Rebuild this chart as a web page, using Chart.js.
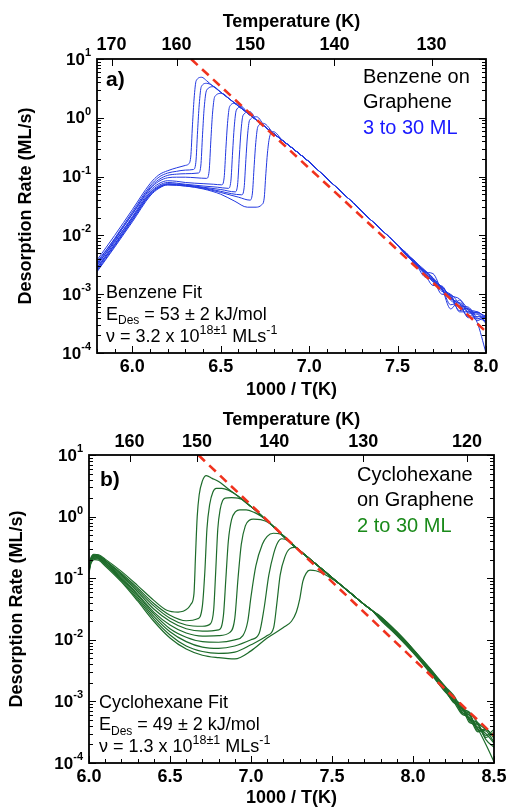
<!DOCTYPE html>
<html><head><meta charset="utf-8">
<script src="https://cdn.jsdelivr.net/npm/chart.js@4.4.1/dist/chart.umd.min.js"></script>
<style>
html,body{margin:0;padding:0;background:#fff;}
#wa{position:absolute;left:0;top:0;width:506px;height:400px;}
#wb{position:absolute;left:0;top:400px;width:506px;height:407px;}
canvas{display:block;}
</style></head><body>
<div id="wa"><canvas id="ca" width="506" height="400"></canvas></div>
<div id="wb"><canvas id="cb" width="506" height="407"></canvas></div>
<script>
// ---------------- DATA ----------------
const yDecades = [-4, -3, -2, -1, 0, 1];

// Panel a: Benzene on Graphene (x = 1000/T, y = desorption rate ML/s)
const benzeneXTicks = [6.0, 6.5, 7.0, 7.5, 8.0];
const benzeneTempTicks = [170, 160, 150, 140, 130];
const benzeneFit = [[6.332, 10], [8.0, 0.000230]];
const benzeneFitText = ['Benzene Fit', '53', '3.2'];
const benzeneHeads = [
  [[5.80,0.00380],[5.90,0.0100],[6.00,0.0275],[6.10,0.0759],[6.15,0.107],[6.20,0.126],[6.25,0.141],[6.30,0.155],[6.316,0.162],[6.330,0.214],[6.340,0.759],[6.349,2.09],[6.361,4.27],[6.392,4.89],[6.42,4.27]],
  [[5.80,0.00331],[5.90,0.00891],[6.00,0.0251],[6.10,0.0692],[6.15,0.0977],[6.20,0.115],[6.25,0.123],[6.30,0.129],[6.345,0.132],[6.359,0.174],[6.369,0.603],[6.378,1.66],[6.390,3.39],[6.420,3.86]],
  [[5.80,0.00302],[5.90,0.00832],[6.00,0.0234],[6.10,0.0646],[6.15,0.0891],[6.20,0.105],[6.25,0.110],[6.30,0.112],[6.373,0.115],[6.387,0.151],[6.397,0.525],[6.406,1.45],[6.420,2.95],[6.458,3.38]],
  [[5.80,0.00355],[5.90,0.00871],[6.00,0.0229],[6.10,0.0617],[6.15,0.0832],[6.20,0.0955],[6.25,0.0977],[6.30,0.0977],[6.36,0.0955],[6.420,0.0933],[6.434,0.123],[6.444,0.417],[6.453,1.15],[6.466,2.29],[6.505,2.61]],
  [[5.80,0.00282],[5.90,0.00759],[6.00,0.0209],[6.10,0.0575],[6.15,0.0759],[6.20,0.0851],[6.25,0.0832],[6.30,0.0794],[6.40,0.0759],[6.46,0.0741],[6.505,0.0724],[6.519,0.0955],[6.529,0.302],[6.538,0.794],[6.550,1.55],[6.581,1.77]],
  [[5.80,0.00263],[5.90,0.00708],[6.00,0.0195],[6.10,0.0537],[6.15,0.0708],[6.20,0.0794],[6.30,0.0741],[6.40,0.0692],[6.48,0.0661],[6.543,0.0631],[6.557,0.0832],[6.567,0.263],[6.576,0.692],[6.588,1.35],[6.618,1.55]],
  [[5.80,0.00316],[5.90,0.00794],[6.00,0.0200],[6.10,0.0525],[6.15,0.0676],[6.20,0.0759],[6.30,0.0724],[6.40,0.0661],[6.50,0.0603],[6.581,0.0550],[6.595,0.0724],[6.605,0.224],[6.614,0.575],[6.626,1.10],[6.665,1.27]],
  [[5.80,0.00251],[5.90,0.00661],[6.00,0.0182],[6.10,0.0501],[6.15,0.0661],[6.20,0.0741],[6.30,0.0708],[6.40,0.0646],[6.50,0.0562],[6.56,0.0513],[6.618,0.0490],[6.632,0.0646],[6.642,0.195],[6.651,0.490],[6.663,0.912],[6.703,1.04]],
  [[5.80,0.00282],[5.90,0.00692],[6.00,0.0182],[6.10,0.0490],[6.15,0.0646],[6.20,0.0724],[6.30,0.0692],[6.40,0.0631],[6.50,0.0537],[6.60,0.0447],[6.665,0.0398],[6.679,0.0525],[6.689,0.155],[6.698,0.380],[6.710,0.708],[6.741,0.805]],
  [[5.80,0.00240],[5.90,0.00631],[6.00,0.0170],[6.10,0.0468],[6.15,0.0631],[6.20,0.0724],[6.30,0.0692],[6.40,0.0617],[6.50,0.0501],[6.58,0.0380],[6.65,0.0302],[6.70,0.0302],[6.731,0.0331],[6.745,0.0417],[6.755,0.112],[6.764,0.251],[6.775,0.457],[6.797,0.581]]
];
const benzeneEdge = [[6.45,3.57],[6.50,2.72],[6.55,2.08],[6.60,1.58],[6.65,1.21],[6.70,0.923],[6.75,0.705],[6.80,0.537],[6.85,0.410],[6.90,0.313],[6.95,0.237],[7.00,0.178],[7.05,0.129],[7.10,0.0933],[7.15,0.0676],[7.20,0.0490],[7.25,0.0355],[7.30,0.0251],[7.35,0.0182],[7.40,0.0132],[7.45,0.00955],[7.50,0.00676]];
const benzeneTailX = [7.55,7.60,7.65,7.70,7.75,7.80,7.85,7.90,7.95,8.00];
const benzeneTails = [
  [0.00490,0.00355,0.00263,0.00191,0.00132,0.000955,0.000832,0.000562,0.000501,0.000417],
  [0.00468,0.00331,0.00234,0.00141,0.00138,0.000794,0.000631,0.000603,0.000398,0.000355],
  [0.00501,0.00347,0.00251,0.00182,0.00112,0.00100,0.000501,0.000501,0.000479,0.000331],
  [0.00457,0.00324,0.00224,0.00166,0.00120,0.000832,0.000708,0.000398,0.000417,0.000398],
  [0.00479,0.00363,0.00240,0.00224,0.00117,0.000912,0.000603,0.000550,0.000355,0.000437],
  [0.00490,0.00316,0.00257,0.00170,0.00129,0.000661,0.000724,0.000479,0.000457,0.000316],
  [0.00468,0.00339,0.00200,0.00178,0.00123,0.000933,0.000525,0.000575,0.000380,0.000447],
  [0.00479,0.00347,0.00245,0.00162,0.00135,0.000871,0.000661,0.000417,0.000501,0.000363],
  [0.00501,0.00331,0.00251,0.00186,0.00100,0.000977,0.000692,0.000537,0.000331,0.000100],
  [0.00457,0.00355,0.00234,0.00174,0.00126,0.000562,0.000794,0.000501,0.000490,0.000398]
];

// Panel b: Cyclohexane on Graphene
const cycloXTicks = [6.0, 6.5, 7.0, 7.5, 8.0, 8.5];
const cycloTempTicks = [160, 150, 140, 130, 120];
const cycloFit = [[6.675, 10], [8.5, 0.00028]];
const cycloFitText = ['Cyclohexane Fit', '49', '1.3'];
const cycloHeads = [
  [[6.00,0.158],[6.01,0.209],[6.03,0.245],[6.06,0.240],[6.10,0.204],[6.20,0.129],[6.30,0.0759],[6.40,0.0437],[6.48,0.0302],[6.55,0.0282],[6.61,0.0324],[6.63,0.038],[6.648,0.0562],[6.658,0.251],[6.668,1.00],[6.68,2.24],[6.70,3.80],[6.724,4.61],[6.76,4.17]],
  [[6.00,0.145],[6.01,0.200],[6.03,0.240],[6.06,0.234],[6.10,0.195],[6.20,0.120],[6.30,0.0692],[6.40,0.0389],[6.50,0.0251],[6.60,0.0204],[6.67,0.0219],[6.70,0.0355],[6.715,0.126],[6.728,0.631],[6.745,1.58],[6.765,2.51],[6.786,2.88],[6.82,2.88],[6.86,2.69]],
  [[6.00,0.138],[6.01,0.191],[6.035,0.229],[6.06,0.224],[6.10,0.191],[6.20,0.115],[6.30,0.0646],[6.40,0.0355],[6.50,0.0224],[6.60,0.0174],[6.70,0.0166],[6.75,0.0182],[6.77,0.0316],[6.782,0.126],[6.795,0.631],[6.81,1.32],[6.825,1.82],[6.84,2.00],[6.88,2.04],[6.92,2.00]],
  [[6.00,0.148],[6.01,0.195],[6.03,0.234],[6.06,0.229],[6.10,0.191],[6.20,0.110],[6.30,0.0603],[6.40,0.0316],[6.50,0.0200],[6.60,0.0151],[6.70,0.0138],[6.80,0.0145],[6.83,0.0251],[6.845,0.100],[6.86,0.398],[6.88,0.891],[6.905,1.20],[6.93,1.29],[6.97,1.29],[7.02,1.17],[7.06,1.02]],
  [[6.00,0.141],[6.01,0.186],[6.035,0.224],[6.06,0.219],[6.10,0.182],[6.20,0.105],[6.30,0.0550],[6.40,0.0282],[6.50,0.0174],[6.60,0.0129],[6.70,0.0115],[6.80,0.0117],[6.87,0.0132],[6.90,0.0224],[6.92,0.100],[6.94,0.355],[6.965,0.708],[6.99,0.871],[7.014,0.912],[7.06,0.891],[7.11,0.794]],
  [[6.00,0.132],[6.01,0.182],[6.035,0.219],[6.06,0.214],[6.10,0.178],[6.20,0.100],[6.30,0.0525],[6.40,0.0263],[6.50,0.0151],[6.60,0.0110],[6.70,0.00933],[6.80,0.00912],[6.90,0.0100],[6.95,0.0117],[6.98,0.0200],[7.00,0.0501],[7.03,0.158],[7.07,0.355],[7.10,0.479],[7.138,0.537],[7.18,0.525],[7.22,0.447]],
  [[6.00,0.135],[6.01,0.178],[6.035,0.214],[6.06,0.209],[6.10,0.170],[6.20,0.0955],[6.30,0.0490],[6.40,0.0240],[6.50,0.0135],[6.60,0.00933],[6.70,0.00759],[6.80,0.00724],[6.90,0.00794],[7.00,0.0100],[7.05,0.0126],[7.08,0.0316],[7.11,0.112],[7.14,0.251],[7.165,0.380],[7.19,0.437],[7.23,0.407],[7.27,0.331]],
  [[6.00,0.126],[6.01,0.174],[6.035,0.209],[6.06,0.204],[6.10,0.166],[6.20,0.0912],[6.30,0.0457],[6.40,0.0219],[6.50,0.0120],[6.60,0.00794],[6.70,0.00646],[6.80,0.00603],[6.90,0.00631],[7.00,0.00832],[7.10,0.0117],[7.14,0.0158],[7.16,0.0398],[7.18,0.112],[7.21,0.224],[7.24,0.302],[7.27,0.316],[7.32,0.251],[7.36,0.204]],
  [[6.00,0.120],[6.01,0.166],[6.035,0.200],[6.06,0.195],[6.10,0.158],[6.20,0.0871],[6.30,0.0427],[6.40,0.0200],[6.50,0.0107],[6.60,0.00708],[6.70,0.00562],[6.80,0.00513],[6.90,0.00490],[7.00,0.00661],[7.10,0.0107],[7.20,0.0158],[7.25,0.0200],[7.28,0.0282],[7.30,0.0447],[7.32,0.0891],[7.34,0.120],[7.364,0.135],[7.40,0.132],[7.45,0.117],[7.50,0.0977]]
];
const cycloEdge = [[6.80,3.72],[6.85,2.95],[6.90,2.34],[6.95,1.86],[7.00,1.45],[7.05,1.12],[7.10,0.851],[7.15,0.646],[7.20,0.479],[7.25,0.363],[7.30,0.282],[7.35,0.219],[7.40,0.170],[7.45,0.132],[7.50,0.102],[7.55,0.0794],[7.60,0.0617],[7.65,0.0479],[7.70,0.0372],[7.75,0.0295]];
const cycloTailX = [7.80,7.90,8.00,8.10,8.20,8.25,8.30,8.35,8.40,8.45,8.50];
const cycloTails = [
  [0.0240,0.0135,0.00708,0.00355,0.00174,0.00126,0.00079,0.00066,0.00045,0.00035,0.00028],
  [0.0224,0.0126,0.00661,0.00316,0.00148,0.00100,0.00089,0.00050,0.00042,0.00026,0.00032],
  [0.0234,0.0132,0.00692,0.00339,0.00166,0.00120,0.00066,0.00060,0.00035,0.00033,0.00022],
  [0.0219,0.0123,0.00646,0.00324,0.00151,0.00096,0.00083,0.00045,0.00042,0.00024,0.00018],
  [0.0229,0.0129,0.00676,0.00347,0.00162,0.00115,0.00072,0.00063,0.00033,0.00036,0.00025],
  [0.0214,0.0120,0.00631,0.00309,0.00145,0.00105,0.00069,0.00052,0.00044,0.00028,0.00035],
  [0.0234,0.0135,0.00708,0.00347,0.00170,0.00112,0.00087,0.00048,0.00038,0.00030,0.00021],
  [0.0224,0.0126,0.00661,0.00324,0.00155,0.00107,0.00076,0.00058,0.00036,0.00020,0.000105],
  [0.0209,0.0117,0.00617,0.00302,0.00141,0.00100,0.00063,0.00054,0.00032,0.00035,0.00026]
];

// ---------------- HELPERS ----------------
const FAM = '"Liberation Sans", Arial, Helvetica, sans-serif';
function toPts(arr){ return arr.map(p => ({x:p[0], y:p[1]})); }
function buildTrace(head, edge, tailX, tailY){
  const pts = toPts(head);
  const last = head[head.length-1][0];
  edge.forEach(p => { if (p[0] > last + 0.025) pts.push({x:p[0], y:p[1]}); });
  tailX.forEach((x,i) => pts.push({x:x, y:tailY[i]}));
  return pts;
}
function drawRich(ctx, x, y, parts){
  let cx = x;
  parts.forEach(p => {
    ctx.font = p[1] + 'px ' + FAM;
    ctx.fillStyle = '#000';
    ctx.textAlign = 'left';
    ctx.textBaseline = 'middle';
    ctx.fillText(p[0], cx, y + p[2]);
    cx += ctx.measureText(p[0]).width;
  });
}
function decor(cfg){
  return {
    id: 'decor_' + cfg.canvas,
    afterDraw(chart){
      const ctx = chart.ctx, a = chart.chartArea;
      const xs = chart.scales.x, ys = chart.scales.y, xt = chart.scales.xTop;
      ctx.save();
      ctx.strokeStyle = '#000';
      ctx.lineWidth = 1;
      ctx.beginPath();
      yDecades.forEach(e => {
        for (let m = 1; m <= 9; m++) {
          if (e === 1 && m > 1) break;
          const py = Math.round(ys.getPixelForValue(m * Math.pow(10, e))) + 0.5;
          const L = m === 1 ? 7 : 4;
          ctx.moveTo(a.left, py); ctx.lineTo(a.left + L, py);
          ctx.moveTo(a.right, py); ctx.lineTo(a.right - L, py);
        }
      });
      for (let k = Math.ceil(cfg.xMin*10 - 1e-6); k <= Math.floor(cfg.xMax*10 + 1e-6); k++) {
        const px = Math.round(xs.getPixelForValue(k/10)) + 0.5;
        const L = (k % 5 === 0) ? 7 : 4;
        ctx.moveTo(px, a.bottom); ctx.lineTo(px, a.bottom - L);
      }
      cfg.tempTicks.forEach(T => {
        const px = Math.round(xt.getPixelForValue(1000/T)) + 0.5;
        ctx.moveTo(px, a.top); ctx.lineTo(px, a.top + 7);
      });
      ctx.stroke();
      ctx.lineWidth = 1.8;
      ctx.strokeRect(a.left, a.top, a.right - a.left, a.bottom - a.top);

      // y tick labels 10^n
      ctx.fillStyle = '#000';
      ctx.textBaseline = 'middle';
      ctx.textAlign = 'left';
      yDecades.forEach(e => {
        const py = ys.getPixelForValue(Math.pow(10, e));
        const sup = String(e);
        ctx.font = 'bold 11px ' + FAM; const sw = ctx.measureText(sup).width;
        ctx.font = 'bold 17px ' + FAM; const bw = ctx.measureText('10').width;
        const right = a.left - 6;
        ctx.fillText('10', right - sw - bw, py + 1);
        ctx.font = 'bold 11px ' + FAM;
        ctx.fillText(sup, right - sw, py - 6);
      });

      // panel label
      ctx.font = 'bold 21px ' + FAM;
      ctx.fillStyle = '#000';
      ctx.fillText(cfg.label, cfg.labelPos[0], cfg.labelPos[1]);
      // species text
      cfg.species.forEach((s, i) => {
        ctx.font = '20px ' + FAM;
        ctx.fillStyle = s[1];
        ctx.fillText(s[0], cfg.speciesPos[0], cfg.speciesPos[1] + i * cfg.speciesGap);
      });
      // fit text
      const fx = cfg.fitPos[0], fy = cfg.fitPos[1], g = cfg.fitGap;
      drawRich(ctx, fx, fy, [[cfg.fitText[0], 18, 0]]);
      drawRich(ctx, fx, fy + g, [['E', 18, 0], ['Des', 12, 6], [' = ' + cfg.fitText[1] + ' \u00b1 2 kJ/mol', 18, 0]]);
      drawRich(ctx, fx, fy + 2*g, [['\u03bd = ' + cfg.fitText[2] + ' x 10', 18, 0], ['18\u00b11', 12.5, -6], [' MLs', 18, 0], ['-1', 12.5, -6]]);
      ctx.restore();
    }
  };
}

function makeChart(cfg){
  const datasets = [{
    data: toPts(cfg.fit), borderColor: '#f0321e', borderWidth: 2.6, borderDash: [9, 6],
    pointRadius: 0, fill: false, tension: 0
  }];
  cfg.traces.forEach(t => datasets.push({
    data: t, borderColor: cfg.color, borderWidth: cfg.lw, pointRadius: 0, fill: false,
    cubicInterpolationMode: 'monotone'
  }));
  const tickFont = {family: FAM, size: 18, weight: 'bold'};
  const titleFont = {family: FAM, size: 18, weight: 'bold', lineHeight: 1};
  return new Chart(document.getElementById(cfg.canvas), {
    type: 'line',
    data: {datasets},
    options: {
      responsive: false, animation: false, devicePixelRatio: 1,
      layout: {padding: {left: 0, right: cfg.padRight, top: 0, bottom: 0}},
      plugins: {legend: {display: false}, tooltip: {enabled: false}},
      events: [],
      scales: {
        x: {
          type: 'linear', position: 'bottom', min: cfg.xMin, max: cfg.xMax,
          afterBuildTicks: s => { s.ticks = cfg.xTicks.map(v => ({value: v})); },
          afterFit: s => { s.height = cfg.bottomH; s.paddingLeft = 0; s.paddingRight = 0; },
          grid: {display: false, drawTicks: false},
          border: {display: false},
          ticks: {callback: v => Number(v).toFixed(1), font: tickFont, color: '#000', padding: 3, autoSkip: false, maxRotation: 0},
          title: {display: true, text: '1000 / T(K)', font: titleFont, color: '#000', padding: {top: 0, bottom: cfg.bottomTitlePad}}
        },
        xTop: {
          type: 'linear', position: 'top', min: cfg.xMin, max: cfg.xMax,
          afterBuildTicks: s => { s.ticks = cfg.tempTicks.map(T => ({value: 1000 / T})); },
          afterFit: s => { s.height = cfg.topH; s.paddingLeft = 0; s.paddingRight = 0; },
          grid: {display: false, drawTicks: false},
          border: {display: false},
          ticks: {callback: v => String(Math.round(1000 / v)), font: tickFont, color: '#000', padding: cfg.topTickPad, autoSkip: false, maxRotation: 0},
          title: {display: true, text: 'Temperature (K)', font: titleFont, color: '#000', padding: {top: cfg.topTitlePad, bottom: 0}}
        },
        y: {
          type: 'logarithmic', position: 'left', min: 1e-4, max: 10,
          afterFit: s => { s.width = cfg.leftW; },
          grid: {display: false, drawTicks: false},
          border: {display: false},
          ticks: {display: false},
          title: {display: true, text: 'Desorption Rate (ML/s)', font: {family: FAM, size: 18, weight: 'bold', lineHeight: 1.2}, color: '#000', padding: {top: cfg.yTitlePad, bottom: 0}}
        }
      }
    },
    plugins: [decor(cfg)]
  });
}

makeChart({
  canvas: 'ca', xMin: 5.8, xMax: 8.0, xTicks: benzeneXTicks, tempTicks: benzeneTempTicks,
  leftW: 97, topH: 59, bottomH: 47, padRight: 20,
  color: '#2238e0', lw: 1, fit: benzeneFit,
  traces: benzeneHeads.map((h, i) => buildTrace(h, benzeneEdge, benzeneTailX, benzeneTails[i])),
  yTitlePad: 15, topTitlePad: 13, bottomTitlePad: 1, topTickPad: 3,
  label: 'a)', labelPos: [106, 80],
  species: [['Benzene on', '#000'], ['Graphene', '#000'], ['3 to 30 ML', '#1a1aff']],
  speciesPos: [363, 77], speciesGap: 25.5,
  fitText: benzeneFitText, fitPos: [106, 293], fitGap: 22
});
makeChart({
  canvas: 'cb', xMin: 6.0, xMax: 8.5, xTicks: cycloXTicks, tempTicks: cycloTempTicks,
  leftW: 89, topH: 55, bottomH: 44, padRight: 12,
  color: '#1d6b2a', lw: 1.2, fit: cycloFit,
  traces: cycloHeads.map((h, i) => buildTrace(h, cycloEdge, cycloTailX, cycloTails[i])),
  yTitlePad: 6, topTitlePad: 11.5, bottomTitlePad: 0, topTickPad: 2,
  label: 'b)', labelPos: [100, 80],
  species: [['Cyclohexane', '#000'], ['on Graphene', '#000'], ['2 to 30 ML', '#1a8a1a']],
  speciesPos: [357, 75], speciesGap: 25.5,
  fitText: cycloFitText, fitPos: [99, 303.5], fitGap: 21.7
});
</script>
</body></html>
